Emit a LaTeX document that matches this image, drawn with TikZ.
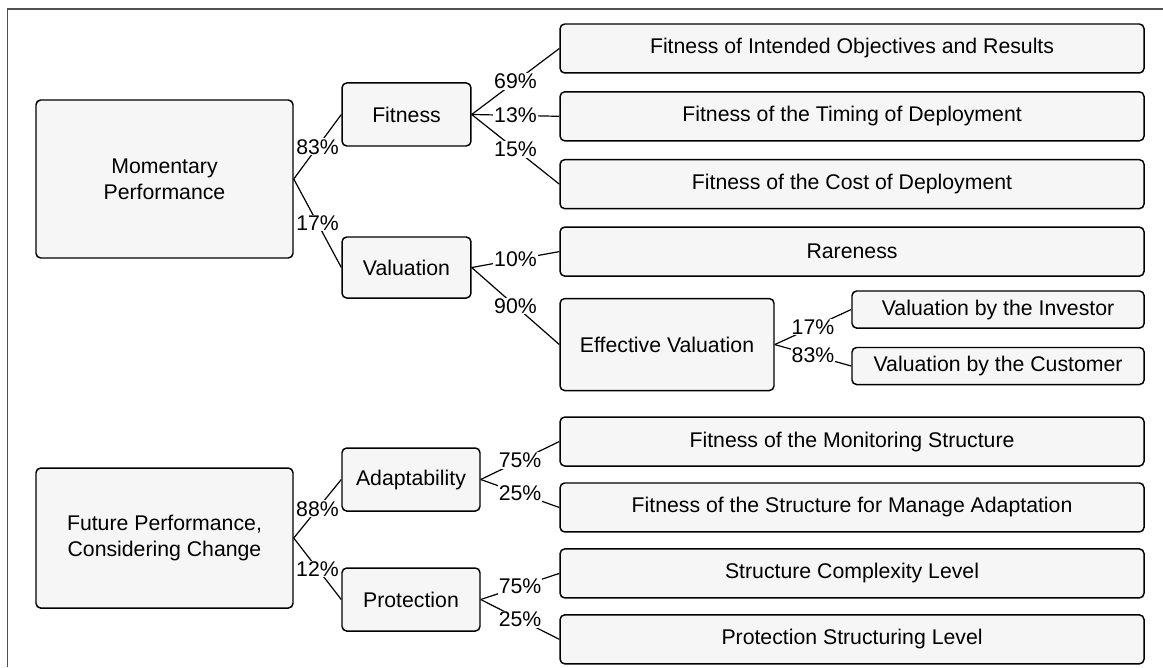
\documentclass[tikz,border=0pt]{standalone}
\usepackage{fontspec}
\setmainfont{Liberation Sans}
\usetikzlibrary{positioning}

\definecolor{boxfill}{RGB}{246,246,246}
\definecolor{framegray}{RGB}{80,80,80}
\newcommand{\boxfont}{\fontsize{16}{19.5}\selectfont}

\begin{document}
\begin{tikzpicture}[
            box/.style={rectangle, draw=black, line width=1.1pt, rounded corners=3.5pt,
                        fill=boxfill, align=center, inner sep=2pt, font=\boxfont},
            root/.style={box, minimum width=6.80cm},
            mid/.style={box, minimum width=3.41cm, minimum height=1.667cm},
            leaf/.style={box, minimum width=15.45cm, minimum height=1.296cm},
            sub/.style={box, minimum width=7.73cm, minimum height=0.98cm},
            link/.style={line width=0.9pt},
            pct/.style={midway, fill=white, inner sep=0.6pt, font=\boxfont},
            node distance=0.46cm]
          \useasboundingbox (0,0) rectangle (30.77,-17.65);
          \draw[framegray, line width=1.1pt] (0.198,-17.65) |- (30.77,-0.238);

          % momentary performance
          \node[root, minimum height=4.18cm] (mp) at (4.352,-4.736) {Momentary\\ Performance};
          \node[mid] (fit) at (10.755,-3.029) {Fitness};
          \node[mid, minimum height=1.614cm] (val) at (10.755,-7.078) {Valuation};
          \node[leaf] (obj) at (22.543,-1.283) {Fitness of Intended Objectives and Results};
          \node[leaf, below=of obj] (timing) {Fitness of the Timing of Deployment};
          \node[leaf, below=of timing] (cost) {Fitness of the Cost of Deployment};
          \node[leaf, below=0.45cm of cost] (rare) {Rareness};
          \node[box, minimum width=5.66cm, minimum height=2.434cm,
                below=0.556cm of rare.south west, anchor=north west] (eff) {Effective Valuation};
          \node[sub] (inv) at (26.406,-8.189) {Valuation by the Investor};
          \node[sub] (cust) at (26.406,-9.684) {Valuation by the Customer};

          \draw[link] (mp.east) -- node[pct] {83\%} (fit.west);
          \draw[link] (mp.east) -- node[pct] {17\%} (val.west);
          \draw[link] (fit.east) -- node[pct] {69\%} (obj.west);
          \draw[link] (fit.east) -- node[pct] {13\%} (timing.west);
          \draw[link] (fit.east) -- node[pct] {15\%} (cost.west);
          \draw[link] (val.east) -- node[pct] {10\%} (rare.west);
          \draw[link] (val.east) -- node[pct] {90\%} (eff.west);
          \draw[link] (eff.east) -- node[pct] {17\%} (inv.west);
          \draw[link] (eff.east) -- node[pct] {83\%} (cust.west);

          % future performance
          \node[root, minimum height=3.704cm] (fp) at (4.352,-14.235) {Future Performance,\\ Considering Change};
          \node[mid, minimum width=3.651cm] (adapt) at (10.874,-12.687) {Adaptability};
          \node[mid, minimum width=3.651cm] (prot) at (10.874,-15.862) {Protection};
          \node[leaf] (monit) at (22.543,-11.682) {Fitness of the Monitoring Structure};
          \node[leaf, below=0.41cm of monit] (manage) {Fitness of the Structure for Manage Adaptation};
          \node[leaf, below=0.41cm of manage] (cplx) {Structure Complexity Level};
          \node[leaf, below=0.41cm of cplx] (struct) {Protection Structuring Level};

          \draw[link] (fp.east) -- node[pct] {88\%} (adapt.west);
          \draw[link] (fp.east) -- node[pct] {12\%} (prot.west);
          \draw[link] (adapt.east) -- node[pct] {75\%} (monit.west);
          \draw[link] (adapt.east) -- node[pct] {25\%} (manage.west);
          \draw[link] (prot.east) -- node[pct] {75\%} (cplx.west);
          \draw[link] (prot.east) -- node[pct] {25\%} (struct.west);
        \end{tikzpicture}
\end{document}
